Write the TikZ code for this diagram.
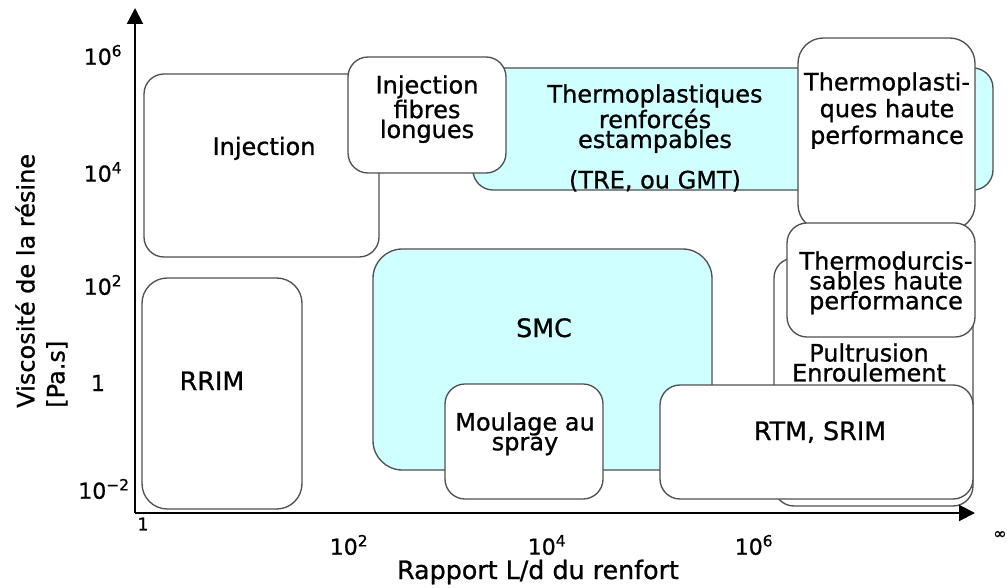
\documentclass[tikz,border=0pt]{standalone}
\usepackage{fontspec}
\setmainfont{DejaVu Sans}[FakeBold=0.9]
\usetikzlibrary{arrows.meta}
\definecolor{boxline}{RGB}{80,80,80}
\definecolor{lightcyan}{RGB}{208,255,255}
\begin{document}
\begin{tikzpicture}[x=0.75pt,y=-0.75pt,
  box/.style={draw=boxline,line width=1pt,rounded corners=15pt,fill=white},
  cbox/.style={box,fill=lightcyan},
  lbl/.style={inner sep=0pt,align=center,font=\fontsize{18}{13.5}\selectfont},
  tick/.style={inner sep=0pt,font=\fontsize{16.5}{18}\selectfont},
  axis/.style={line width=1.5pt,-{Triangle[length=12pt,width=12pt]}}]
\useasboundingbox (0,0) rectangle (1007,588);

% boxes (back to front)
\draw[box] (144,74) rectangle (379,257);
\node[lbl,anchor=base] (tinj) at (264,155) {Injection};

\draw[cbox] (473,68) rectangle (993,190);
\node[lbl,anchor=north] (ttre) at (655,84) {Thermoplastiques\\renforcés\\estampables\\[12pt](TRE, ou GMT)};

\draw[box] (348,57) rectangle (506,173);
\node[lbl,anchor=north] (tfib) at (427,75) {Injection\\fibres\\longues};

\draw[box,rounded corners=19pt] (798,38) rectangle (975,230);
\node[lbl,anchor=north,font=\fontsize{18}{20}\selectfont] (thp) at (887,72) {Thermoplasti-\\ques haute\\performance};

\draw[box] (774,258) rectangle (973,506);
\node[lbl,anchor=north,font=\fontsize{18}{13.5}\selectfont] (tpul) at (869,343) {Pultrusion\\Enroulement};

\draw[box] (787,223) rectangle (975,337);
\node[lbl,anchor=north,font=\fontsize{18}{13}\selectfont] (tthd) at (886,251) {Thermodurcis-\\sables haute\\performance};

\draw[box,rounded corners=19pt] (142,278) rectangle (302,509);
\node[lbl,anchor=base,font=\fontsize{19}{13}\selectfont] (trrim) at (212,390) {RRIM};

\draw[cbox,rounded corners=22pt] (373,249) rectangle (712,470);
\node[lbl,anchor=base,font=\fontsize{19}{13}\selectfont] (tsmc) at (544,337) {SMC};

\draw[box] (445,384) rectangle (603,499);
\node[lbl,anchor=north,font=\fontsize{18}{13.5}\selectfont] (tmou) at (525,412) {Moulage au\\spray};

\draw[box] (660,385) rectangle (973,499);
\node[lbl,anchor=base,font=\fontsize{19}{13}\selectfont] (trtm) at (820,440) {RTM, SRIM};

% axes
\coordinate (O) at (135,513);
\coordinate (ytop) at (135,8);
\coordinate (xend) at (975,513);
\draw[axis] (O) -- (ytop);
\draw[axis] (O) -- (xend);

% tick labels
\node[tick] (y6) at (103,55) {10\textsuperscript{6}};
\node[tick] (y4) at (103,172) {10\textsuperscript{4}};
\node[tick] (y2) at (103,285) {10\textsuperscript{2}};
\node[tick] (y0) at (98,383) {1};
\node[tick] (ym2) at (104,489) {10\textsuperscript{−2}};
\node[tick,font=\fontsize{13}{15}\selectfont] (x0) at (143,524) {1};
\node[tick] (x2) at (349,545) {10\textsuperscript{2}};
\node[tick] (x4) at (547,545) {10\textsuperscript{4}};
\node[tick] (x6) at (754,545) {10\textsuperscript{6}};
\node[tick,anchor=west,font=\fontsize{12}{14}\selectfont] (xinf) at (993,535) {∞};

% axis titles
\node[inner sep=0pt,anchor=base,font=\fontsize{19}{22}\selectfont] (xtitle) at (538,579) {Rapport L/d du renfort};
\node[inner sep=0pt,rotate=90,anchor=north west,align=left,font=\fontsize{18}{22.5}\selectfont] (ytitle) at (15,408) {Viscosité de la résine\\{[Pa.s]}};
\end{tikzpicture}
\end{document}
